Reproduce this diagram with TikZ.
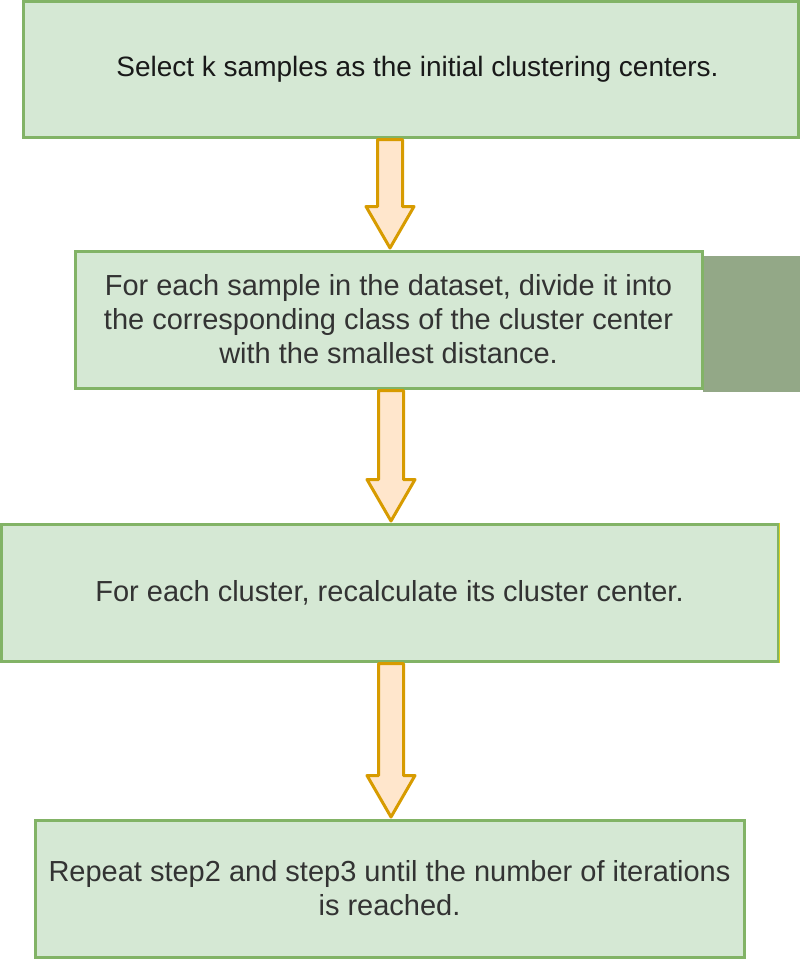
\documentclass[tikz,border=0pt]{standalone}
\usepackage{fontspec}
\setmainfont{Liberation Sans}
\usetikzlibrary{calc}
\definecolor{boxfill}{HTML}{D5E8D4}
\definecolor{boxline}{HTML}{82B366}
\definecolor{arrowfill}{HTML}{FFE6CC}
\definecolor{arrowline}{HTML}{D79B00}
\definecolor{sidefill}{HTML}{93A887}
\definecolor{txt}{HTML}{333333}
\tikzset{b/.style={draw=boxline,fill=boxfill,line width=3pt,align=center,inner sep=0pt,text=txt,font=\fontsize{29}{34}\selectfont}}
\tikzset{fa/.style={draw=arrowline,fill=arrowfill,line width=3pt,line join=round}}

\begin{document}
\begin{tikzpicture}[x=1pt,y=-1pt]
  \useasboundingbox (0,0) rectangle (800,959);
  \fill[sidefill] (703,256) rectangle (800,392);
  \node[b,minimum width=775pt,minimum height=136pt,text=black!90,font=\fontsize{28}{34}\selectfont] (s1) at (410.5,69)
    {\hspace*{14pt}Select k samples as the initial clustering centers.};
  \node[b,minimum width=627pt,minimum height=137pt] (s2) at (388.5,319.5)
    {For each sample in the dataset, divide it into\\the corresponding class of the cluster center\\with the smallest distance.};
  \node[b,minimum width=777pt,minimum height=137pt] (s3) at (389.5,592.5)
    {For each cluster, recalculate its cluster center.};
  \draw[yellow!85!black,line width=1.5pt] (s3.north east) -- (s3.south east);
  \node[b,minimum width=709pt,minimum height=137pt] (s4) at (389.5,888.5)
    {Repeat step2 and step3 until the number of iterations\\is reached.};
  % block arrows between the steps
  \foreach \a/\b in {s1/s2,s2/s3,s3/s4}
    \draw[fa] let \p1=(\a.south), \p2=(\b.north) in
      (\x2-11pt,\y1-1pt) -- (\x2-11pt,\y2+43pt) -- (\x2-22.5pt,\y2+43pt) -- (\x2+1.5pt,\y2+1.5pt)
      -- (\x2+25.5pt,\y2+43pt) -- (\x2+14pt,\y2+43pt) -- (\x2+14pt,\y1-1pt) -- cycle;
\end{tikzpicture}
\end{document}
